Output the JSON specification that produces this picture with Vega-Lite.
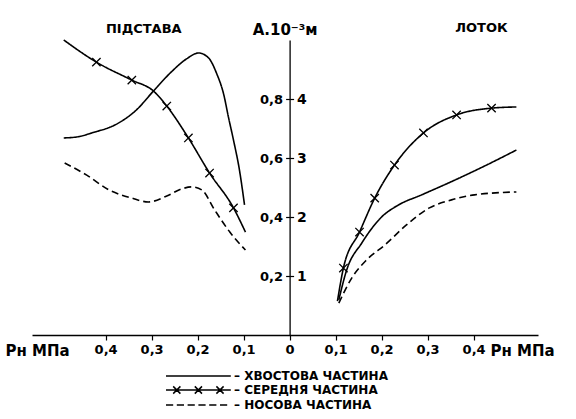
{
  "$schema": "https://vega.github.io/schema/vega-lite/v6.json",
  "width": 506,
  "height": 295,
  "autosize": {"type": "none"},
  "padding": {"left": 32, "top": 40, "right": 38, "bottom": 84},
  "background": "white",
  "config": {
    "view": {"stroke": null},
    "font": "DejaVu Sans",
    "axis": {"grid": false, "domainColor": "black", "tickColor": "black", "labelColor": "black", "titleColor": "black", "labelFont": "DejaVu Sans", "titleFont": "DejaVu Sans", "labelFontWeight": "bold", "titleFontWeight": "bold", "labelFontSize": 13, "titleFontSize": 14, "domainWidth": 1.3, "tickWidth": 1.2}
  },
  "datasets": {
    "curves": [
      {"s": "ХВОСТОВА ЧАСТИНА", "part": "Підстава", "p": -0.491, "A": 0.668},
      {"s": "ХВОСТОВА ЧАСТИНА", "part": "Підстава", "p": -0.46, "A": 0.672},
      {"s": "ХВОСТОВА ЧАСТИНА", "part": "Підстава", "p": -0.43, "A": 0.685},
      {"s": "ХВОСТОВА ЧАСТИНА", "part": "Підстава", "p": -0.376, "A": 0.715},
      {"s": "ХВОСТОВА ЧАСТИНА", "part": "Підстава", "p": -0.333, "A": 0.763},
      {"s": "ХВОСТОВА ЧАСТИНА", "part": "Підстава", "p": -0.296, "A": 0.827},
      {"s": "ХВОСТОВА ЧАСТИНА", "part": "Підстава", "p": -0.257, "A": 0.892},
      {"s": "ХВОСТОВА ЧАСТИНА", "part": "Підстава", "p": -0.224, "A": 0.936},
      {"s": "ХВОСТОВА ЧАСТИНА", "part": "Підстава", "p": -0.198, "A": 0.956},
      {"s": "ХВОСТОВА ЧАСТИНА", "part": "Підстава", "p": -0.176, "A": 0.939},
      {"s": "ХВОСТОВА ЧАСТИНА", "part": "Підстава", "p": -0.159, "A": 0.888},
      {"s": "ХВОСТОВА ЧАСТИНА", "part": "Підстава", "p": -0.143, "A": 0.814},
      {"s": "ХВОСТОВА ЧАСТИНА", "part": "Підстава", "p": -0.133, "A": 0.739},
      {"s": "ХВОСТОВА ЧАСТИНА", "part": "Підстава", "p": -0.122, "A": 0.661},
      {"s": "ХВОСТОВА ЧАСТИНА", "part": "Підстава", "p": -0.109, "A": 0.559},
      {"s": "ХВОСТОВА ЧАСТИНА", "part": "Підстава", "p": -0.098, "A": 0.441},
      {"s": "ХВОСТОВА ЧАСТИНА", "part": "Лоток", "p": 0.107, "A": 0.119},
      {"s": "ХВОСТОВА ЧАСТИНА", "part": "Лоток", "p": 0.124, "A": 0.22},
      {"s": "ХВОСТОВА ЧАСТИНА", "part": "Лоток", "p": 0.157, "A": 0.312},
      {"s": "ХВОСТОВА ЧАСТИНА", "part": "Лоток", "p": 0.2, "A": 0.4},
      {"s": "ХВОСТОВА ЧАСТИНА", "part": "Лоток", "p": 0.237, "A": 0.441},
      {"s": "ХВОСТОВА ЧАСТИНА", "part": "Лоток", "p": 0.287, "A": 0.475},
      {"s": "ХВОСТОВА ЧАСТИНА", "part": "Лоток", "p": 0.359, "A": 0.525},
      {"s": "ХВОСТОВА ЧАСТИНА", "part": "Лоток", "p": 0.428, "A": 0.576},
      {"s": "ХВОСТОВА ЧАСТИНА", "part": "Лоток", "p": 0.493, "A": 0.627},
      {"s": "СЕРЕДНЯ ЧАСТИНА", "part": "Підстава", "p": -0.491, "A": 1.0},
      {"s": "СЕРЕДНЯ ЧАСТИНА", "part": "Підстава", "p": -0.42, "A": 0.925},
      {"s": "СЕРЕДНЯ ЧАСТИНА", "part": "Підстава", "p": -0.343, "A": 0.864},
      {"s": "СЕРЕДНЯ ЧАСТИНА", "part": "Підстава", "p": -0.296, "A": 0.827},
      {"s": "СЕРЕДНЯ ЧАСТИНА", "part": "Підстава", "p": -0.267, "A": 0.776},
      {"s": "СЕРЕДНЯ ЧАСТИНА", "part": "Підстава", "p": -0.22, "A": 0.668},
      {"s": "СЕРЕДНЯ ЧАСТИНА", "part": "Підстава", "p": -0.174, "A": 0.549},
      {"s": "СЕРЕДНЯ ЧАСТИНА", "part": "Підстава", "p": -0.122, "A": 0.431},
      {"s": "СЕРЕДНЯ ЧАСТИНА", "part": "Підстава", "p": -0.096, "A": 0.349},
      {"s": "СЕРЕДНЯ ЧАСТИНА", "part": "Лоток", "p": 0.104, "A": 0.115},
      {"s": "СЕРЕДНЯ ЧАСТИНА", "part": "Лоток", "p": 0.117, "A": 0.227},
      {"s": "СЕРЕДНЯ ЧАСТИНА", "part": "Лоток", "p": 0.152, "A": 0.349},
      {"s": "СЕРЕДНЯ ЧАСТИНА", "part": "Лоток", "p": 0.185, "A": 0.464},
      {"s": "СЕРЕДНЯ ЧАСТИНА", "part": "Лоток", "p": 0.228, "A": 0.576},
      {"s": "СЕРЕДНЯ ЧАСТИНА", "part": "Лоток", "p": 0.291, "A": 0.685},
      {"s": "СЕРЕДНЯ ЧАСТИНА", "part": "Лоток", "p": 0.363, "A": 0.746},
      {"s": "СЕРЕДНЯ ЧАСТИНА", "part": "Лоток", "p": 0.439, "A": 0.769},
      {"s": "СЕРЕДНЯ ЧАСТИНА", "part": "Лоток", "p": 0.493, "A": 0.773},
      {"s": "НОСОВА ЧАСТИНА", "part": "Підстава", "p": -0.489, "A": 0.583},
      {"s": "НОСОВА ЧАСТИНА", "part": "Підстава", "p": -0.441, "A": 0.542},
      {"s": "НОСОВА ЧАСТИНА", "part": "Підстава", "p": -0.393, "A": 0.492},
      {"s": "НОСОВА ЧАСТИНА", "part": "Підстава", "p": -0.343, "A": 0.464},
      {"s": "НОСОВА ЧАСТИНА", "part": "Підстава", "p": -0.307, "A": 0.451},
      {"s": "НОСОВА ЧАСТИНА", "part": "Підстава", "p": -0.267, "A": 0.471},
      {"s": "НОСОВА ЧАСТИНА", "part": "Підстава", "p": -0.235, "A": 0.495},
      {"s": "НОСОВА ЧАСТИНА", "part": "Підстава", "p": -0.213, "A": 0.502},
      {"s": "НОСОВА ЧАСТИНА", "part": "Підстава", "p": -0.191, "A": 0.492},
      {"s": "НОСОВА ЧАСТИНА", "part": "Підстава", "p": -0.163, "A": 0.424},
      {"s": "НОСОВА ЧАСТИНА", "part": "Підстава", "p": -0.13, "A": 0.349},
      {"s": "НОСОВА ЧАСТИНА", "part": "Підстава", "p": -0.096, "A": 0.288},
      {"s": "НОСОВА ЧАСТИНА", "part": "Лоток", "p": 0.107, "A": 0.108},
      {"s": "НОСОВА ЧАСТИНА", "part": "Лоток", "p": 0.135, "A": 0.193},
      {"s": "НОСОВА ЧАСТИНА", "part": "Лоток", "p": 0.167, "A": 0.254},
      {"s": "НОСОВА ЧАСТИНА", "part": "Лоток", "p": 0.207, "A": 0.305},
      {"s": "НОСОВА ЧАСТИНА", "part": "Лоток", "p": 0.254, "A": 0.373},
      {"s": "НОСОВА ЧАСТИНА", "part": "Лоток", "p": 0.304, "A": 0.431},
      {"s": "НОСОВА ЧАСТИНА", "part": "Лоток", "p": 0.352, "A": 0.458},
      {"s": "НОСОВА ЧАСТИНА", "part": "Лоток", "p": 0.402, "A": 0.475},
      {"s": "НОСОВА ЧАСТИНА", "part": "Лоток", "p": 0.493, "A": 0.485}
    ],
    "crosses": [
      {"p": -0.42, "A": 0.925}, {"p": -0.343, "A": 0.864}, {"p": -0.267, "A": 0.776},
      {"p": -0.22, "A": 0.668}, {"p": -0.174, "A": 0.549}, {"p": -0.122, "A": 0.431},
      {"p": 0.117, "A": 0.227}, {"p": 0.152, "A": 0.349}, {"p": 0.185, "A": 0.464},
      {"p": 0.228, "A": 0.576}, {"p": 0.291, "A": 0.685}, {"p": 0.363, "A": 0.746},
      {"p": 0.439, "A": 0.769}
    ],
    "panels": [
      {"label": "ПІДСТАВА", "p": -0.317, "A": 1.036},
      {"label": "ЛОТОК", "p": 0.417, "A": 1.04}
    ],
    "legendItems": [
      {"item": "ХВОСТОВА ЧАСТИНА"},
      {"item": "СЕРЕДНЯ ЧАСТИНА"},
      {"item": "НОСОВА ЧАСТИНА"}
    ]
  },
  "resolve": {"axis": {"x": "independent", "y": "independent"}},
  "layer": [
    {
      "data": {"name": "curves"},
      "mark": {"type": "line", "interpolate": "monotone", "color": "black", "strokeWidth": 1.6},
      "encoding": {
        "x": {"field": "p", "type": "quantitative", "scale": {"domain": [-0.56, 0.54], "nice": false},
          "axis": {"values": [-0.4, -0.3, -0.2, -0.1, 0, 0.1, 0.2, 0.3, 0.4], "labelExpr": "datum.value == 0 ? '0' : replace(format(abs(datum.value), '.1f'), '.', ',')", "tickSize": 5, "labelPadding": 3, "title": "Pн МПа", "titleFontSize": 15, "titleX": 458, "titleY": 15, "titleAlign": "left", "titleBaseline": "middle", "titleAnchor": null}},
        "y": {"field": "A", "type": "quantitative", "scale": {"domain": [0, 1.0], "nice": false},
          "axis": {"orient": "left", "offset": -257.6, "values": [0.2, 0.4, 0.6, 0.8], "labelExpr": "replace(format(datum.value, '.1f'), '.', ',')", "tickSize": 4, "labelPadding": 3, "title": "А.10⁻³м", "titleFontSize": 15, "titleAngle": 0, "titleX": -5, "titleY": -3, "titleAlign": "center", "titleBaseline": "bottom"}},
        "detail": [{"field": "s"}, {"field": "part"}],
        "strokeDash": {"field": "s", "type": "nominal", "scale": {"domain": ["НОСОВА ЧАСТИНА", "СЕРЕДНЯ ЧАСТИНА", "ХВОСТОВА ЧАСТИНА"], "range": [[7, 4], [1, 0], [1, 0]]}, "legend": null}
      }
    },
    {
      "data": {"name": "crosses"},
      "mark": {"type": "point", "shape": "M-1,-1L1,1M-1,1L1,-1", "size": 70, "stroke": "black", "strokeWidth": 1.3, "filled": false, "opacity": 1},
      "encoding": {
        "x": {"field": "p", "type": "quantitative", "axis": null},
        "y": {"field": "A", "type": "quantitative", "axis": null}
      }
    },
    {
      "data": {"name": "panels"},
      "mark": {"type": "text", "fontWeight": "bold", "fontSize": 13, "color": "black", "font": "DejaVu Sans"},
      "encoding": {
        "x": {"field": "p", "type": "quantitative",
          "axis": {"orient": "top", "domain": false, "ticks": false, "labels": false, "title": "Pн МПа", "titleFontSize": 15, "titleX": -27, "titleY": 310, "titleAlign": "left", "titleBaseline": "middle", "titleAnchor": null}},
        "y": {"field": "A", "type": "quantitative",
          "axis": {"orient": "right", "offset": -248.4, "values": [0.2, 0.4, 0.6, 0.8], "labelExpr": "format(datum.value * 5, 'd')", "domain": false, "tickSize": 4, "labelPadding": 3, "labelFontSize": 14, "title": null}},
        "text": {"field": "label"}
      }
    },
    {
      "data": {"name": "legendItems"},
      "mark": {"type": "point", "filled": false, "stroke": "black", "strokeWidth": 1.5, "opacity": 1, "clip": true},
      "encoding": {
        "x": {"datum": 5, "type": "quantitative", "axis": null},
        "y": {"datum": 0.5, "type": "quantitative", "axis": null},
        "shape": {"field": "item", "type": "nominal",
          "scale": {"domain": ["ХВОСТОВА ЧАСТИНА", "СЕРЕДНЯ ЧАСТИНА", "НОСОВА ЧАСТИНА"],
            "range": ["M-1,0L9.8,0", "M-1,0L9.8,0M0.2,-0.6L1.4,0.6M0.2,0.6L1.4,-0.6M3.8,-0.6L5,0.6M3.8,0.6L5,-0.6M7.4,-0.6L8.6,0.6M7.4,0.6L8.6,-0.6", "M-1,0L0.2,0M0.8,0L2,0M2.6,0L3.8,0M4.4,0L5.6,0M6.2,0L7.4,0M8,0L9.2,0"]},
          "legend": {"orient": "none", "legendX": 133, "legendY": 329, "title": null, "symbolSize": 144, "symbolOpacity": 1, "symbolStrokeColor": "black", "symbolStrokeWidth": 1.5, "labelFontSize": 12, "labelFontWeight": "bold", "labelFont": "DejaVu Sans", "labelColor": "black", "labelOffset": 55, "labelLimit": 400, "rowPadding": 1,
            "labelExpr": "datum.label == 'ХВОСТОВА ЧАСТИНА' ? '– ХВОСТОВА    ЧАСТИНА' : datum.label == 'СЕРЕДНЯ ЧАСТИНА' ? '– СЕРЕДНЯ       ЧАСТИНА' : '– НОСОВА          ЧАСТИНА'"}
        }
      }
    }
  ]
}
